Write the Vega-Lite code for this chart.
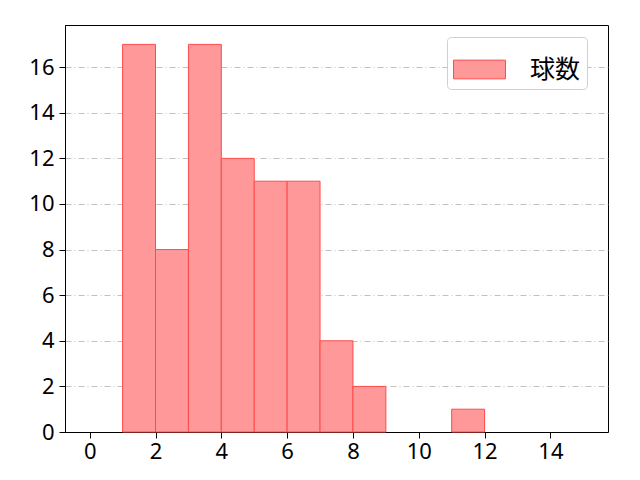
{
  "$schema": "https://vega.github.io/schema/vega-lite/v6.json",
  "width": 543,
  "height": 407,
  "autosize": {"type": "none"},
  "padding": {"left": 65, "top": 25, "right": 32, "bottom": 48},
  "background": "white",
  "config": {
    "font": "Noto Sans CJK JP",
    "view": {"stroke": "black", "strokeWidth": 1}
  },
  "data": {
    "values": [
      {"bin_start": 1, "bin_end": 2, "count": 17},
      {"bin_start": 2, "bin_end": 3, "count": 8},
      {"bin_start": 3, "bin_end": 4, "count": 17},
      {"bin_start": 4, "bin_end": 5, "count": 12},
      {"bin_start": 5, "bin_end": 6, "count": 11},
      {"bin_start": 6, "bin_end": 7, "count": 11},
      {"bin_start": 7, "bin_end": 8, "count": 4},
      {"bin_start": 8, "bin_end": 9, "count": 2},
      {"bin_start": 11, "bin_end": 12, "count": 1}
    ]
  },
  "mark": {"type": "bar", "fill": "#ff9999", "stroke": "#ff4a4a", "strokeWidth": 1, "opacity": 1},
  "encoding": {
    "x": {
      "field": "bin_start",
      "type": "quantitative",
      "scale": {"domain": [-0.75, 15.75], "nice": false, "zero": false, "padding": 0},
      "axis": {
        "title": null,
        "values": [0, 2, 4, 6, 8, 10, 12, 14],
        "grid": false,
        "domainColor": "black",
        "tickColor": "black",
        "tickSize": 6,
        "labelFont": "Noto Sans",
        "labelFontSize": 22,
        "labelColor": "black",
        "labelPadding": 3,
        "labelFlush": false
      }
    },
    "x2": {"field": "bin_end"},
    "y": {
      "field": "count",
      "type": "quantitative",
      "scale": {"domain": [0, 17.85], "nice": false, "padding": 0},
      "axis": {
        "title": null,
        "values": [0, 2, 4, 6, 8, 10, 12, 14, 16],
        "grid": true,
        "gridColor": "#b0b0b0",
        "gridDash": [6, 3, 1, 3],
        "gridWidth": 0.8,
        "domainColor": "black",
        "tickColor": "black",
        "tickSize": 6,
        "labelFont": "Noto Sans",
        "labelFontSize": 22,
        "labelColor": "black",
        "labelPadding": 5,
        "labelFlush": false
      }
    },
    "y2": {"datum": 0},
    "color": {
      "datum": "球数",
      "type": "nominal",
      "scale": {"range": ["#ff9999"]},
      "legend": {
        "title": null,
        "orient": "none",
        "legendX": 382,
        "legendY": 12,
        "padding": 6,
        "strokeColor": "#d0d0d0",
        "fillColor": "white",
        "cornerRadius": 4,
        "symbolType": "M-1,-0.36H1V0.36H-1Z",
        "symbolSize": 2700,
        "symbolFillColor": "#ff9999",
        "symbolStrokeColor": "#ff4a4a",
        "symbolStrokeWidth": 1,
        "symbolOpacity": 1,
        "labelFontSize": 25,
        "labelColor": "black",
        "labelOffset": 24
      }
    }
  }
}
